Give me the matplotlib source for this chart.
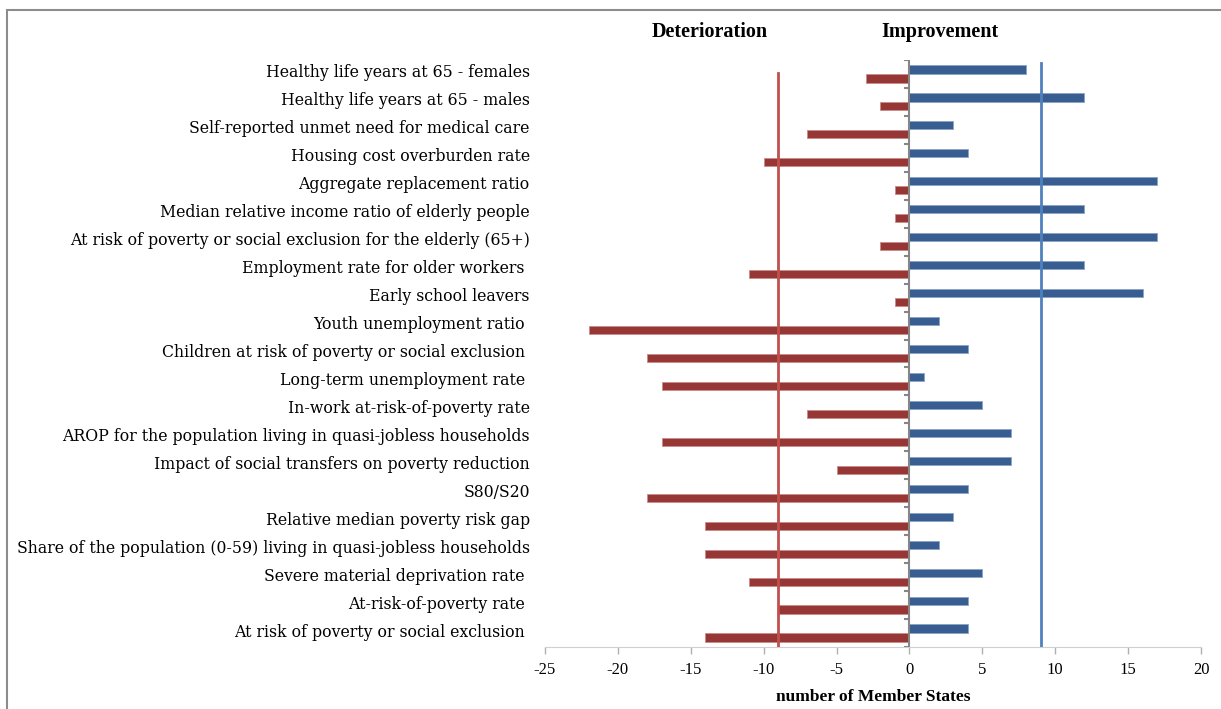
import matplotlib
matplotlib.use("Agg")
import matplotlib.pyplot as plt
import matplotlib.transforms as mtransforms
from matplotlib.patches import Rectangle

# indicators, listed top to bottom
indicators = [
    "Healthy life years at 65 - females",
    "Healthy life years at 65 - males",
    "Self-reported unmet need for medical care",
    "Housing cost overburden rate",
    "Aggregate replacement ratio",
    "Median relative income ratio of elderly people",
    "At risk of poverty or social exclusion for the elderly (65+)",
    "Employment rate for older workers ",
    "Early school leavers",
    "Youth unemployment ratio ",
    "Children at risk of poverty or social exclusion ",
    "Long-term unemployment rate ",
    "In-work at-risk-of-poverty rate",
    "AROP for the population living in quasi-jobless households",
    "Impact of social transfers on poverty reduction",
    "S80/S20",
    "Relative median poverty risk gap",
    "Share of the population (0-59) living in quasi-jobless households",
    "Severe material deprivation rate ",
    "At-risk-of-poverty rate ",
    "At risk of poverty or social exclusion ",
]
# number of Member States with an improvement / a deterioration
improvement = [8, 12, 3, 4, 17, 12, 17, 12, 16, 2, 4, 1, 5, 7, 7, 4, 3, 2, 5, 4, 4]
deterioration = [-3, -2, -7, -10, -1, -1, -2, -11, -1, -22, -18, -17, -7, -17, -5, -18, -14, -14, -11, -9, -14]
# reference lines
deterioration_ref = -9
improvement_ref = 9
x_ticks = [-25, -20, -15, -10, -5, 0, 5, 10, 15, 20]

BLUE = "#375d91"
RED = "#963735"
GREY = "#868686"

plt.rcParams["font.family"] = ["Liberation Serif", "DejaVu Serif"]

fig = plt.figure(figsize=(12.21, 7.09), dpi=100)
ax = fig.add_axes([545 / 1221, 62 / 709, 656 / 1221, 587 / 709])

n = len(indicators)
ypos = [n - 1 - i for i in range(n)]
h = 0.29
ax.barh([y + 0.16 for y in ypos], improvement, height=h, color=BLUE,
        edgecolor="#8aa4c8", linewidth=0.6, zorder=3)
ax.barh([y - 0.16 for y in ypos], deterioration, height=h, color=RED,
        edgecolor="#c98c8a", linewidth=0.6, zorder=3)

ax.axvline(deterioration_ref, ymin=0, ymax=0.978, color="#c0504d", lw=2, zorder=4)
ax.axvline(improvement_ref, ymin=0, ymax=0.995, color="#4f81bd", lw=2, zorder=4)

# zero line with small tick marks between categories
ax.axvline(0, color=GREY, lw=1.5, zorder=5)
ax.hlines([y + 0.5 for y in range(-1, n)], -0.35, 0, color=GREY, lw=1.5, zorder=5)

ax.set_xlim(-25, 20)
ax.set_ylim(-0.5, n - 0.5)
ax.set_xticks(x_ticks)
ax.set_xticklabels([str(t) for t in x_ticks], fontsize=12)
ax.tick_params(axis="x", length=5, color="#b0b0b0", width=1, pad=6)

ax.set_yticks(ypos)
ax.set_yticklabels(indicators, fontsize=11.3, family=["DejaVu Serif"])
ax.tick_params(axis="y", length=0, pad=11)
# labels sit a little above the category centre
shift = mtransforms.ScaledTranslation(0, 3 / 100, fig.dpi_scale_trans)
for lab in ax.get_yticklabels():
    lab.set_transform(lab.get_transform() + shift)

for s in ["top", "right", "left"]:
    ax.spines[s].set_visible(False)
ax.spines["bottom"].set_color("#d0d0d0")

ax.set_xlabel("number of Member States", fontsize=12.5, fontweight="bold", labelpad=8)

fig.text(710 / 1221, 1 - 32 / 709, "Deterioration", fontsize=14.5, fontweight="bold",
         ha="center", va="center")
fig.text(940 / 1221, 1 - 32 / 709, "Improvement", fontsize=14.5, fontweight="bold",
         ha="center", va="center")

fig.patches.append(Rectangle((7 / 1221, -0.05), 1.1, 1.05 - 10 / 709, transform=fig.transFigure,
                             fill=False, edgecolor="#8c8c8c", lw=1.5))

fig.savefig("out.png", dpi=100)
